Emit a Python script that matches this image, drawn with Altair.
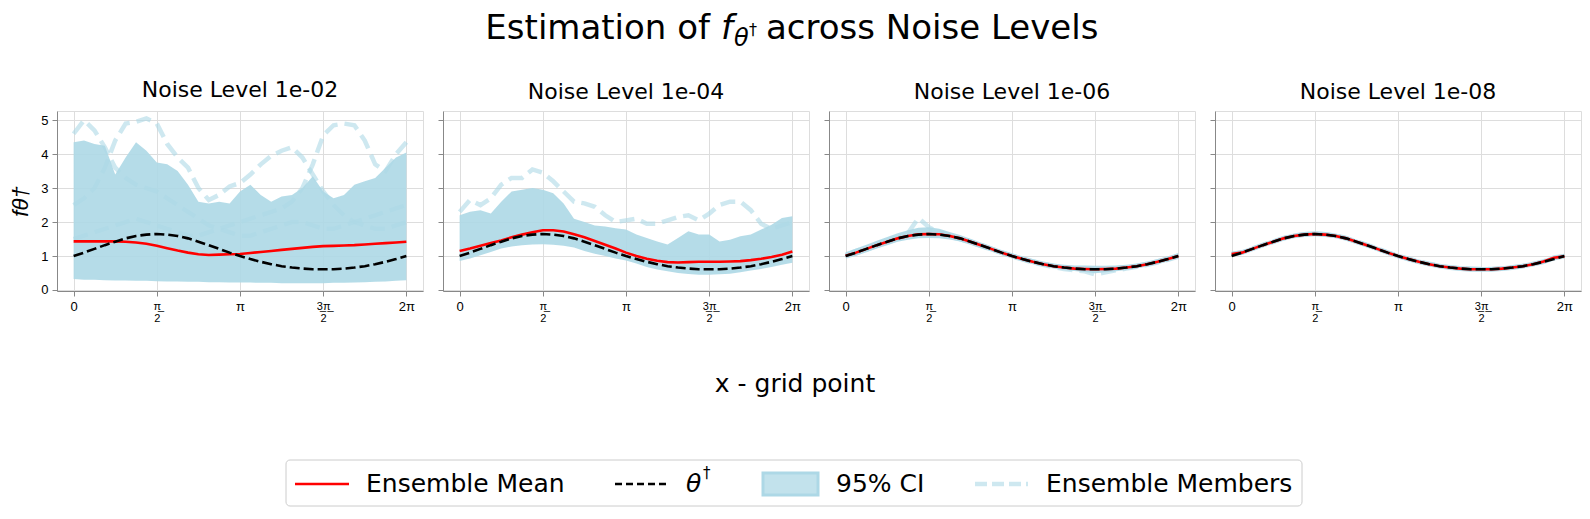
import altair as alt
import numpy as np
import pandas as pd

FONT = "DejaVu Sans"
LB = "#ADD8E6"

# x grid (33 points from 0 to 2*pi)
x_grid = np.linspace(0, 2 * np.pi, 33)

panel_titles = ["Noise Level 1e-02", "Noise Level 1e-04", "Noise Level 1e-06", "Noise Level 1e-08"]

truth = [1.00, 1.10, 1.21, 1.32, 1.42, 1.52, 1.59, 1.63, 1.65, 1.63, 1.59, 1.52, 1.42, 1.32, 1.21, 1.10, 1.00,
         0.91, 0.83, 0.76, 0.70, 0.66, 0.63, 0.61, 0.61, 0.61, 0.63, 0.66, 0.70, 0.76, 0.83, 0.91, 1.00]

# ---- Noise 1e-02
mean_1 = [1.43, 1.43, 1.43, 1.43, 1.43, 1.42, 1.40, 1.36, 1.30, 1.23, 1.16, 1.10, 1.05, 1.03, 1.04, 1.05, 1.06,
          1.09, 1.12, 1.15, 1.18, 1.21, 1.24, 1.27, 1.29, 1.30, 1.31, 1.32, 1.34, 1.36, 1.38, 1.40, 1.42]
upper_1 = [4.35, 4.40, 4.30, 4.25, 3.40, 3.90, 4.35, 4.10, 3.75, 3.70, 3.50, 3.10, 2.60, 2.55, 2.60, 2.55, 2.90,
           3.10, 2.80, 2.60, 2.75, 2.80, 3.00, 3.35, 2.90, 2.70, 2.80, 3.10, 3.20, 3.30, 3.60, 3.90, 4.05]
lower_1 = [0.32, 0.30, 0.30, 0.29, 0.28, 0.28, 0.27, 0.27, 0.26, 0.25, 0.25, 0.24, 0.24, 0.23, 0.23, 0.22, 0.22,
           0.22, 0.21, 0.21, 0.20, 0.20, 0.20, 0.20, 0.20, 0.21, 0.21, 0.22, 0.23, 0.24, 0.25, 0.27, 0.29]
members_1 = [
    [4.60, 5.00, 4.70, 4.20, 3.60, 3.30, 3.10, 3.00, 2.90, 2.70, 2.50, 2.30, 2.10, 1.90, 1.80, 1.70, 1.60,
     1.60, 1.70, 1.80, 1.90, 2.00, 2.00, 1.90, 1.80, 1.80, 1.90, 2.00, 2.10, 2.20, 2.30, 2.40, 2.50],
    [2.50, 2.70, 3.00, 3.60, 4.40, 4.90, 4.95, 5.05, 4.90, 4.30, 3.90, 3.60, 3.00, 2.65, 2.80, 3.05, 3.15,
     3.40, 3.70, 3.95, 4.10, 4.20, 3.90, 3.40, 2.90, 2.50, 2.20, 2.00, 1.90, 1.80, 1.80, 1.90, 2.00],
    [1.50, 1.60, 1.70, 1.80, 1.90, 2.00, 2.10, 2.00, 1.90, 1.80, 1.70, 1.60, 1.60, 1.70, 1.80, 1.90, 2.00,
     2.10, 2.20, 2.30, 2.40, 2.60, 3.00, 3.70, 4.55, 4.85, 4.90, 4.85, 4.40, 3.70, 3.50, 4.00, 4.35],
]

# ---- Noise 1e-04
mean_2 = [1.15, 1.22, 1.30, 1.38, 1.46, 1.55, 1.63, 1.70, 1.76, 1.76, 1.72, 1.64, 1.55, 1.44, 1.33, 1.22, 1.10,
          1.00, 0.92, 0.86, 0.82, 0.81, 0.82, 0.83, 0.83, 0.83, 0.84, 0.85, 0.88, 0.92, 0.97, 1.04, 1.13]
upper_2 = [2.20, 2.30, 2.35, 2.25, 2.60, 2.90, 2.95, 3.00, 2.95, 2.85, 2.55, 2.10, 2.00, 1.90, 1.87, 1.82, 1.78,
           1.63, 1.53, 1.43, 1.34, 1.53, 1.73, 1.63, 1.63, 1.43, 1.48, 1.58, 1.63, 1.78, 1.92, 2.12, 2.17]
lower_2 = [0.85, 0.93, 1.02, 1.12, 1.22, 1.28, 1.32, 1.34, 1.35, 1.33, 1.30, 1.25, 1.15, 1.07, 1.00, 0.93, 0.87,
           0.78, 0.68, 0.60, 0.55, 0.50, 0.47, 0.45, 0.45, 0.46, 0.48, 0.52, 0.57, 0.62, 0.68, 0.74, 0.80]
members_2 = [
    [2.30, 2.65, 2.50, 2.70, 3.10, 3.30, 3.30, 3.55, 3.45, 3.20, 2.90, 2.60, 2.55, 2.45, 2.20, 2.00, 2.05,
     2.10, 1.95, 1.95, 2.05, 2.15, 2.20, 2.05, 2.25, 2.50, 2.60, 2.60, 2.35, 1.95, 1.80, 1.90, 2.00],
]

# ---- Noise 1e-06
mean_3 = [1.01, 1.10, 1.21, 1.32, 1.42, 1.52, 1.59, 1.64, 1.65, 1.64, 1.59, 1.52, 1.42, 1.32, 1.21, 1.10, 1.00,
          0.91, 0.83, 0.76, 0.70, 0.66, 0.63, 0.62, 0.61, 0.62, 0.63, 0.66, 0.70, 0.76, 0.83, 0.91, 1.00]
upper_3 = [1.11, 1.22, 1.33, 1.45, 1.56, 1.67, 1.76, 1.83, 1.85, 1.80, 1.71, 1.62, 1.51, 1.40, 1.29, 1.18, 1.08,
           0.99, 0.91, 0.84, 0.78, 0.74, 0.72, 0.72, 0.71, 0.71, 0.72, 0.74, 0.78, 0.84, 0.91, 0.99, 1.09]
lower_3 = [0.94, 1.01, 1.11, 1.22, 1.32, 1.42, 1.48, 1.52, 1.53, 1.52, 1.49, 1.43, 1.33, 1.23, 1.13, 1.03, 0.93,
           0.84, 0.76, 0.69, 0.63, 0.59, 0.56, 0.53, 0.49, 0.52, 0.55, 0.59, 0.63, 0.69, 0.76, 0.84, 0.93]
members_3 = [
    [1.02, 1.15, 1.25, 1.33, 1.43, 1.55, 1.68, 2.12, 1.85, 1.70, 1.62, 1.52, 1.43, 1.33, 1.22, 1.11, 1.01,
     0.92, 0.84, 0.77, 0.71, 0.67, 0.64, 0.62, 0.62, 0.62, 0.64, 0.67, 0.71, 0.77, 0.84, 0.92, 1.01],
    [0.98, 1.08, 1.19, 1.30, 1.40, 1.50, 1.57, 1.61, 1.63, 1.61, 1.57, 1.50, 1.40, 1.30, 1.20, 1.09, 0.99,
     0.90, 0.81, 0.74, 0.67, 0.62, 0.58, 0.55, 0.46, 0.52, 0.58, 0.63, 0.68, 0.74, 0.81, 0.89, 0.98],
]

# ---- Noise 1e-08
mean_4 = [1.06, 1.10, 1.21, 1.32, 1.42, 1.52, 1.59, 1.63, 1.65, 1.63, 1.59, 1.52, 1.42, 1.32, 1.21, 1.10, 1.00,
          0.91, 0.83, 0.76, 0.70, 0.66, 0.63, 0.61, 0.61, 0.61, 0.63, 0.66, 0.70, 0.76, 0.84, 0.95, 0.99]
upper_4 = [1.13, 1.17, 1.28, 1.39, 1.49, 1.59, 1.66, 1.71, 1.73, 1.71, 1.66, 1.59, 1.49, 1.39, 1.28, 1.17, 1.07,
           0.98, 0.90, 0.83, 0.77, 0.73, 0.70, 0.69, 0.68, 0.68, 0.70, 0.73, 0.77, 0.83, 0.90, 1.01, 1.06]
lower_4 = [0.99, 1.03, 1.14, 1.25, 1.35, 1.45, 1.52, 1.56, 1.58, 1.56, 1.52, 1.45, 1.35, 1.25, 1.14, 1.03, 0.93,
           0.84, 0.76, 0.69, 0.63, 0.59, 0.56, 0.54, 0.54, 0.54, 0.56, 0.59, 0.63, 0.69, 0.76, 0.87, 0.93]
members_4 = [
    [1.05, 1.11, 1.22, 1.33, 1.43, 1.53, 1.60, 1.64, 1.66, 1.64, 1.60, 1.53, 1.43, 1.33, 1.22, 1.11, 1.01,
     0.92, 0.84, 0.77, 0.71, 0.67, 0.64, 0.62, 0.62, 0.62, 0.64, 0.67, 0.71, 0.77, 0.84, 0.96, 1.00],
]

means = [mean_1, mean_2, mean_3, mean_4]
uppers = [upper_1, upper_2, upper_3, upper_4]
lowers = [lower_1, lower_2, lower_3, lower_4]
members = [members_1, members_2, members_3, members_4]

x_ticks = [0, np.pi / 2, np.pi, 3 * np.pi / 2, 2 * np.pi]
y_ticks = [0, 1, 2, 3, 4, 5]

x_scale = alt.Scale(domain=[-0.05 * 2 * np.pi, 1.05 * 2 * np.pi], nice=False, zero=False)
y_scale = alt.Scale(domain=[-0.03, 5.27], nice=False, zero=False)

label_expr = ("datum.value < 0.5 ? '0' : datum.value < 2 ? ['π\u0332', '2'] : "
              "datum.value < 3.5 ? 'π' : datum.value < 5 ? ['3\u0332π\u0332', '2'] : '2π'")
frac_test = "(datum.value > 1 && datum.value < 2) || (datum.value > 4 && datum.value < 5)"

x_axis = alt.Axis(values=x_ticks, labelExpr=label_expr, title=None,
                  labelFontSize={"condition": {"test": frac_test, "value": 11}, "value": 13},
                  labelLineHeight=12, labelPadding=4)


def make_panel(i):
    xs = list(x_grid)
    band_df = pd.DataFrame({"x": xs, "lo": lowers[i], "hi": uppers[i]})
    line_df = pd.DataFrame({"x": xs, "mean": means[i], "truth": truth})
    rows = []
    for m, vals in enumerate(members[i]):
        for xv, yv in zip(xs, vals):
            rows.append({"x": xv, "y": yv, "member": m})
    mem_df = pd.DataFrame(rows)

    if i == 0:
        y_axis = alt.Axis(values=y_ticks, title="fθ†", titleFontSize=22, titleFontStyle="italic",
                          titleFontWeight="normal", titlePadding=8, labelFontSize=13, labelPadding=4)
    else:
        y_axis = alt.Axis(values=y_ticks, labels=False, title=None)

    X = alt.X("x:Q", scale=x_scale, axis=x_axis)

    mem = alt.Chart(mem_df).mark_line(color=LB, opacity=0.6, strokeWidth=4.5, strokeDash=[15, 7]).encode(
        x=X, y=alt.Y("y:Q", scale=y_scale, axis=y_axis), detail="member:N")
    band = alt.Chart(band_df).mark_area(color=LB, opacity=0.9).encode(
        x=X, y=alt.Y("lo:Q", scale=y_scale, axis=y_axis), y2="hi:Q")
    mean = alt.Chart(line_df).mark_line(color="red", strokeWidth=2.6).encode(
        x=X, y=alt.Y("mean:Q", scale=y_scale, axis=y_axis))
    tru = alt.Chart(line_df).mark_line(color="black", strokeWidth=2.6, strokeDash=[10, 4]).encode(
        x=X, y=alt.Y("truth:Q", scale=y_scale, axis=y_axis))

    return alt.layer(mem, band, mean, tru).properties(
        width=366, height=180,
        title=alt.TitleParams(panel_titles[i], fontSize=22, font=FONT, fontWeight="normal", offset=7, color="black"))


panels = alt.hconcat(*[make_panel(i) for i in range(4)], spacing=13)

one = pd.DataFrame({"k": [0]})
base = alt.Chart(one)
NOVIEW = alt.ViewBackground(stroke="transparent", strokeWidth=0)

# ---- top: figure title with sub/superscript pieces (chart's left edge = first panel's plot left)
TB = 31
tt = dict(font=FONT, color="black", baseline="alphabetic")
h1 = base.mark_text(text="Estimation of", fontSize=34, align="right", **tt).encode(x=alt.value(653), y=alt.value(TB))
h2 = base.mark_text(text="f", fontSize=34, fontStyle="italic", align="left", **tt).encode(
    x=alt.value(664), y=alt.value(TB))
h3 = base.mark_text(text="θ", fontSize=24, fontStyle="italic", align="left", **tt).encode(
    x=alt.value(677), y=alt.value(TB + 7))
h4 = base.mark_text(text="†", fontSize=16, align="left", **tt).encode(x=alt.value(692), y=alt.value(TB - 4))
h5 = base.mark_text(text="across Noise Levels", fontSize=34, align="left", **tt).encode(
    x=alt.value(709), y=alt.value(TB))
top = alt.layer(h1, h2, h3, h4, h5).properties(width=1522, height=70, view=NOVIEW)

# ---- bottom: common x label + legend
LY = 160
xlabel = base.mark_text(text="x - grid point", fontSize=25, font=FONT, baseline="middle", align="center",
                        color="black").encode(x=alt.value(738), y=alt.value(60))
box = base.mark_rect(fill="white", stroke="#cccccc", strokeWidth=1, cornerRadius=4).encode(
    x=alt.value(229), x2=alt.value(1245), y=alt.value(LY - 24), y2=alt.value(LY + 22))
leg_mean = base.mark_rule(color="red", strokeWidth=2.6).encode(x=alt.value(238), x2=alt.value(292), y=alt.value(LY))
leg_truth = base.mark_rule(color="black", strokeWidth=2.6, strokeDash=[7, 4]).encode(
    x=alt.value(558), x2=alt.value(611), y=alt.value(LY))
leg_ci = base.mark_rect(fill=LB, fillOpacity=0.75, stroke=LB, strokeWidth=3).encode(
    x=alt.value(706), x2=alt.value(761), y=alt.value(LY - 11), y2=alt.value(LY + 11))
leg_mem = base.mark_rule(color=LB, opacity=0.6, strokeWidth=4.5, strokeDash=[12, 5]).encode(
    x=alt.value(918), x2=alt.value(971), y=alt.value(LY))
txt = dict(fontSize=25, font=FONT, baseline="middle", align="left", color="black")
t1 = base.mark_text(text="Ensemble Mean", **txt).encode(x=alt.value(309), y=alt.value(LY))
t2a = base.mark_text(text="θ", fontStyle="italic", **txt).encode(x=alt.value(629), y=alt.value(LY))
t2b = base.mark_text(text="†", fontSize=15, font=FONT, baseline="middle", align="left", color="black").encode(
    x=alt.value(646), y=alt.value(LY - 11))
t3 = base.mark_text(text="95% CI", **txt).encode(x=alt.value(779), y=alt.value(LY))
t4 = base.mark_text(text="Ensemble Members", **txt).encode(x=alt.value(989), y=alt.value(LY))

bottom = alt.layer(xlabel, box, leg_mean, leg_truth, leg_ci, leg_mem, t1, t2a, t2b, t3, t4).properties(
    width=1522, height=182, view=NOVIEW)

chart = alt.vconcat(top, panels, bottom, spacing=0).properties(
    padding={"left": 1, "top": 0, "right": 0, "bottom": 0},
).configure_view(stroke="black", strokeWidth=1.1).configure_axis(
    domain=False, gridColor="#a8a8a8", gridWidth=1, tickColor="black", tickSize=5, tickWidth=1,
    labelColor="black", labelFont=FONT, titleFont=FONT, titleColor="black"
).configure(background="white")

chart.save("out.html", embed_options={"renderer": "svg", "actions": False})
